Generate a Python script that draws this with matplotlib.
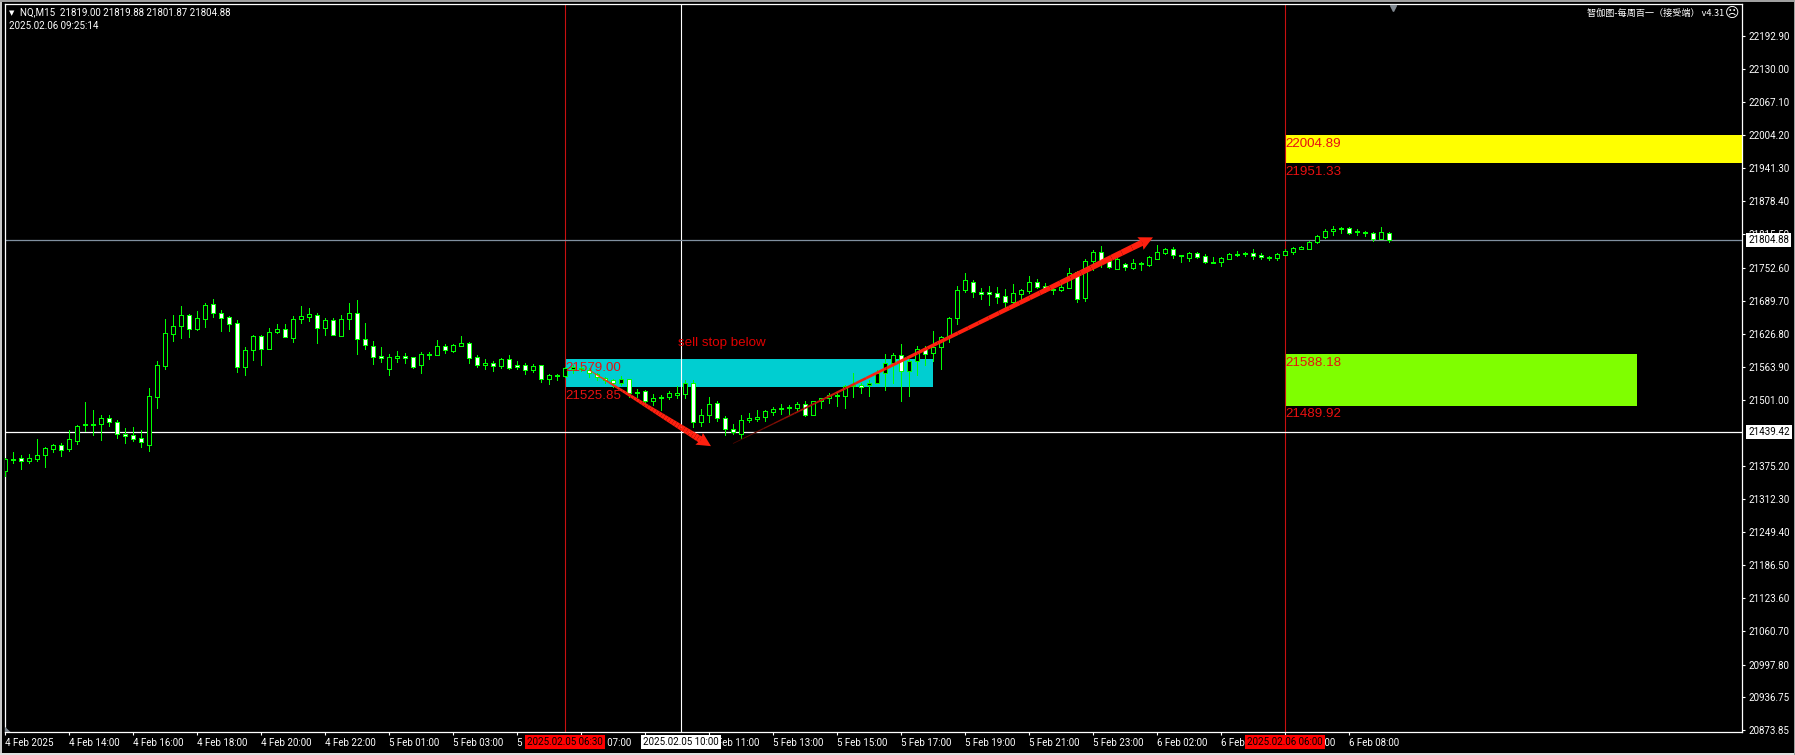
import matplotlib
matplotlib.use('Agg')
import matplotlib.pyplot as plt
import numpy as np
from matplotlib.patches import Rectangle, Polygon
from matplotlib.transforms import IdentityTransform

W, H = 1795, 755

opens = [21366,21387,21390,21385,21389,21396,21408,21415,21408,21423,
         21454,21454,21456,21466,21458,21437,21434,21428,21416,21507,
         21566,21627,21642,21662,21635,21655,21683,21666,21658,21647,
         21564,21596,21622,21598,21631,21635,21619,21655,21659,21662,
         21638,21652,21623,21654,21666,21616,21603,21584,21560,21581,
         21584,21582,21567,21587,21587,21603,21594,21604,21610,21582,
         21568,21572,21565,21578,21567,21567,21557,21567,21541,21546,
         21547,21559,21559,21558,21550,21543,21538,21533,21540,21514,
         21518,21498,21504,21506,21511,21512,21534,21458,21473,21496,
         21466,21445,21437,21462,21465,21469,21477,21483,21485,21486,
         21494,21473,21498,21504,21509,21509,21527,21529,21529,21533,
         21552,21572,21586,21556,21575,21597,21591,21601,21620,21656,
         21709,21726,21707,21706,21705,21698,21687,21703,21708,21726,
         21717,21712,21709,21714,21744,21695,21766,21783,21766,21750,
         21759,21752,21760,21758,21769,21780,21787,21776,21771,21780,
         21774,21764,21764,21769,21777,21778,21780,21776,21772,21771,
         21777,21783,21788,21788,21802,21811,21823,21825,21827,21822,
         21821,21818,21807,21819]
closes = [21389,21389,21385,21390,21397,21409,21415,21406,21426,21451,
          21456,21456,21466,21458,21437,21433,21427,21420,21508,21567,
          21628,21641,21662,21635,21656,21681,21667,21657,21646,21564,
          21595,21622,21598,21631,21635,21621,21654,21660,21664,21638,
          21652,21625,21654,21666,21616,21605,21583,21581,21582,21584,
          21581,21564,21588,21589,21603,21596,21605,21609,21581,21568,
          21572,21566,21578,21562,21564,21557,21565,21541,21548,21548,
          21561,21563,21562,21552,21544,21539,21533,21540,21515,21516,
          21498,21504,21507,21514,21514,21534,21458,21472,21494,21466,
          21445,21439,21462,21466,21469,21479,21484,21486,21487,21494,
          21473,21498,21504,21510,21511,21527,21529,21526,21533,21552,
          21572,21586,21556,21575,21597,21589,21601,21620,21656,21709,
          21728,21707,21703,21703,21697,21688,21704,21710,21726,21716,
          21711,21709,21715,21743,21693,21766,21783,21766,21753,21768,
          21753,21761,21761,21772,21783,21787,21776,21774,21781,21773,
          21764,21762,21770,21778,21779,21780,21775,21772,21770,21778,
          21785,21789,21791,21802,21813,21823,21826,21828,21819,21820,
          21818,21807,21820,21804.88]
highs = [21390,21402,21396,21398,21427,21411,21418,21419,21444,21453,
         21497,21482,21472,21473,21463,21447,21449,21444,21524,21575,
         21655,21662,21680,21664,21670,21685,21693,21672,21661,21653,
         21602,21624,21624,21638,21645,21645,21661,21680,21676,21667,
         21657,21657,21662,21685,21691,21647,21613,21602,21588,21594,
         21590,21583,21592,21592,21615,21607,21607,21622,21611,21586,
         21579,21575,21581,21586,21575,21571,21569,21567,21550,21550,
         21563,21567,21566,21561,21553,21545,21540,21546,21541,21522,
         21520,21512,21510,21517,21527,21538,21539,21484,21506,21498,
         21470,21456,21472,21476,21482,21482,21487,21493,21491,21497,
         21499,21499,21505,21515,21516,21529,21552,21534,21538,21557,
         21588,21591,21607,21578,21603,21603,21632,21622,21658,21717,
         21742,21729,21714,21717,21715,21712,21721,21712,21736,21731,
         21723,21719,21721,21752,21746,21768,21786,21794,21771,21770,
         21762,21769,21763,21775,21795,21790,21792,21776,21782,21783,
         21778,21773,21772,21780,21784,21783,21788,21780,21775,21780,
         21787,21791,21793,21804,21814,21825,21832,21830,21829,21826,
         21822,21820,21830,21819.88]
lows = [21356,21381,21369,21381,21385,21374,21402,21394,21404,21417,
        21441,21434,21425,21451,21428,21419,21423,21411,21404,21486,
        21560,21613,21619,21621,21634,21640,21659,21632,21632,21554,
        21548,21577,21567,21598,21628,21621,21611,21647,21651,21609,
        21624,21624,21622,21636,21588,21598,21569,21573,21548,21573,
        21571,21562,21552,21579,21586,21590,21592,21603,21571,21564,
        21560,21556,21562,21560,21560,21550,21554,21535,21531,21539,
        21545,21552,21555,21545,21538,21533,21526,21529,21506,21507,
        21493,21491,21482,21503,21505,21505,21450,21452,21458,21460,
        21434,21436,21429,21458,21460,21460,21472,21474,21475,21482,
        21471,21472,21486,21496,21490,21486,21507,21514,21508,21533,
        21519,21533,21499,21508,21548,21567,21575,21560,21611,21645,
        21707,21697,21693,21681,21685,21675,21681,21691,21704,21714,
        21706,21702,21708,21714,21687,21689,21748,21754,21752,21749,
        21748,21749,21748,21755,21769,21778,21771,21763,21765,21771,
        21762,21761,21755,21768,21774,21775,21769,21769,21767,21767,
        21776,21778,21787,21788,21800,21809,21814,21819,21816,21814,
        21813,21804,21807,21801.87]

y_ticks = [22192.90,22130.00,22067.10,22004.20,21941.30,21878.40,21815.50,
           21752.60,21689.70,21626.80,21563.90,21501.00,21375.20,21312.30,
           21249.40,21186.50,21123.60,21060.70,20997.80,20936.75,20873.85]
x_tick_labels = ['4 Feb 2025','4 Feb 14:00','4 Feb 16:00','4 Feb 18:00','4 Feb 20:00',
                 '4 Feb 22:00','5 Feb 01:00','5 Feb 03:00','5 Feb 05:00','5 Feb 07:00',
                 '5 Feb 09:00','5 Feb 11:00','5 Feb 13:00','5 Feb 15:00','5 Feb 17:00',
                 '5 Feb 19:00','5 Feb 21:00','5 Feb 23:00','6 Feb 02:00','6 Feb 04:00',
                 '6 Feb 06:00','6 Feb 08:00']

# bar index of the session lines
bar_red_1 = 70
bar_red_2 = 160
bar_cross = 84.5
last_price = 21804.88
cross_price = 21439.42

# zones: first bar, last bar, low, high
zone_cyan = (70, 116, 21525.85, 21579.00)
zone_yellow = (160, 217.2, 21951.33, 22004.89)
zone_green = (160, 204, 21489.92, 21588.18)
zone_labels = [(70, 21579.00), (70, 21525.85), (160, 22004.89),
               (160, 21951.33), (160, 21588.18), (160, 21489.92)]

# arrows: start bar, start price, end bar, end price
arrow_down = (73, 21558, 88.25, 21413)
arrow_up = (91, 21418, 143.5, 21810)

TEXT_FONT = 'Roboto'

plt.rcParams['font.family'] = [TEXT_FONT, 'DejaVu Sans']

fig = plt.figure(figsize=(W / 100, H / 100), dpi=100, facecolor='black')
ax = fig.add_axes([5 / W, (H - 732) / H, 1737 / W, 728 / H], facecolor='black')
ax.set_xlim(0, 217.125)
ax.set_ylim(20869.46, 22253.75)

# outer window frame
for x0, y0, w, h, col in [(0, 0, 2 / W, 1, '#c8c8c8'), (0, 1 - 2 / H, 1, 2 / H, '#a0a0a0'),
                          (0, 0, 1, 2 / H, '#e0e0e0'), (1 - 1 / W, 0, 1 / W, 1, '#a0a0a0')]:
    fig.add_artist(Rectangle((x0, y0), w, h, transform=fig.transFigure, color=col, lw=0))

for z, col in [(zone_cyan, '#00ced1'), (zone_yellow, '#ffff00'), (zone_green, '#7fff00')]:
    ax.add_patch(Rectangle((z[0], z[2]), z[1] - z[0], z[3] - z[2], color=col, lw=0, zorder=1))

ax.axvline(bar_red_1, color='#c81010', lw=0.8, zorder=2)
ax.axvline(bar_red_2, color='#c81010', lw=0.8, zorder=2)
ax.axvline(bar_cross, color='white', lw=0.8, zorder=2)
ax.axhline(cross_price, color='white', lw=0.9, zorder=2)
ax.axhline(last_price, color='#8090a0', lw=0.9, zorder=2)

# candles
idx = np.arange(len(opens))
o = np.array(opens)
c = np.array(closes)
bottoms = np.minimum(o, c)
heights = np.abs(c - o)
fills = ['black' if c[i] > o[i] else 'white' for i in idx]
ax.vlines(idx, lows, highs, color='#00ff00', lw=0.72, zorder=3, antialiased=False)
ax.bar(idx, heights, bottom=bottoms, width=0.5, color=fills, edgecolor='#00ff00',
       linewidth=0.72, zorder=4, antialiased=False)


def draw_arrow(spec, max_w, head_len, head_w, dark):
    p0 = ax.transData.transform((spec[0], spec[1]))
    p1 = ax.transData.transform((spec[2], spec[3]))
    d = p1 - p0
    u = d / np.hypot(*d)
    n = np.array([-u[1], u[0]])
    neck = p1 - u * head_len
    ts = np.linspace(0, 1, 41)
    dark = np.array(dark)
    full = np.array([1.0, 0.125, 0.06])
    for t0, t1 in zip(ts[:-1], ts[1:]):
        a0 = p0 + (neck - p0) * t0
        a1 = p0 + (neck - p0) * t1
        w0 = 0.4 + max_w * t0 / 2
        w1 = 0.4 + max_w * t1 / 2
        col = dark + (full - dark) * min(t1 / 0.35, 1)
        ax.add_patch(Polygon([a0 + n * w0, a1 + n * w1, a1 - n * w1, a0 - n * w0],
                             transform=IdentityTransform(), color=col, lw=0, zorder=5))
    back = neck - u * 2
    ax.add_patch(Polygon([p1, back + n * head_w, neck, back - n * head_w],
                         transform=IdentityTransform(), color=full, lw=0, zorder=5))


draw_arrow(arrow_down, 6, 12, 7, (0.9, 0.3, 0.1))
draw_arrow(arrow_up, 5.5, 12, 7, (0.25, 0.02, 0.0))

for bar, price in zone_labels:
    ax.annotate(f'{price:.2f}', (bar, price), xytext=(0, -2), textcoords='offset points',
                color='#e81010', fontsize=9.6, family='Liberation Sans', va='top', ha='left', zorder=6)
ax.text(84.1, 21610, 'sell stop below', color='#e00000', fontsize=9.6,
        family='Liberation Sans', va='center', ha='left', zorder=6)

# axes
for s in ax.spines.values():
    s.set_color('white')
    s.set_linewidth(0.9)
ax.yaxis.tick_right()
ax.set_yticks(y_ticks)
ax.set_yticklabels([f'{v:.2f}' for v in y_ticks])
ax.set_xticks(np.arange(len(x_tick_labels)) * 8)
ax.set_xticklabels(x_tick_labels, ha='left')
ax.tick_params(axis='y', colors='white', labelsize=7, length=2.5, width=0.8, pad=2)
ax.tick_params(axis='x', colors='white', labelsize=7, length=2.5, width=0.8, pad=2)

# price boxes on the right axis
ytr = ax.get_yaxis_transform()
for price in [last_price, cross_price]:
    ax.text(1.0035, price, f'{price:.2f}', transform=ytr, color='black', fontsize=7,
            va='center', ha='left', clip_on=False, zorder=8,
            bbox=dict(boxstyle='square,pad=0.2', fc='white', ec='none'))

# time boxes on the bottom axis
xtr = ax.get_xaxis_transform()
for bar, label, col in [(bar_red_1, '2025.02.05 06:30', '#ff0000'),
                        (bar_cross, '2025.02.05 10:00', 'white'),
                        (bar_red_2, '2025.02.06 06:00', '#ff0000')]:
    ax.text(bar, -0.0133, label, transform=xtr, color='black', fontsize=7, va='center',
            ha='center', clip_on=False, zorder=8,
            bbox=dict(boxstyle='square,pad=0.2', fc=col, ec='none'))

# chart header
fig.text(12 / W, 1 - 12.7 / H, '▼', color='white', fontsize=5, family='DejaVu Sans', va='center', ha='center')
fig.text(20 / W, 1 - 12.7 / H, 'NQ,M15  21819.00 21819.88 21801.87 21804.88', color='white',
         fontsize=7, va='center', ha='left')
fig.text(9 / W, 1 - 25.7 / H, '2025.02.06 09:25:14', color='white', fontsize=7, va='center', ha='left')
fig.text(1724 / W, 1 - 13.5 / H, '智伽图-每周百一（接受端） v4.31', color='white', fontsize=6.6,
         family=['Noto Sans CJK SC', 'DejaVu Sans'], va='center', ha='right')
fig.text(1732 / W, 1 - 13.5 / H, '☹', color='white', fontsize=10, family='DejaVu Sans', va='center', ha='center')

# chart shift markers
ax.plot([173.5], [0.994], marker='v', ms=5, color='#808890', transform=xtr, clip_on=False, zorder=7)
ax.add_patch(Polygon([(0, 0), (0.7, 0), (0, 0.007)], transform=xtr, color='#808890', lw=0, zorder=7))

fig.savefig('out.png', dpi=100, facecolor='black')
